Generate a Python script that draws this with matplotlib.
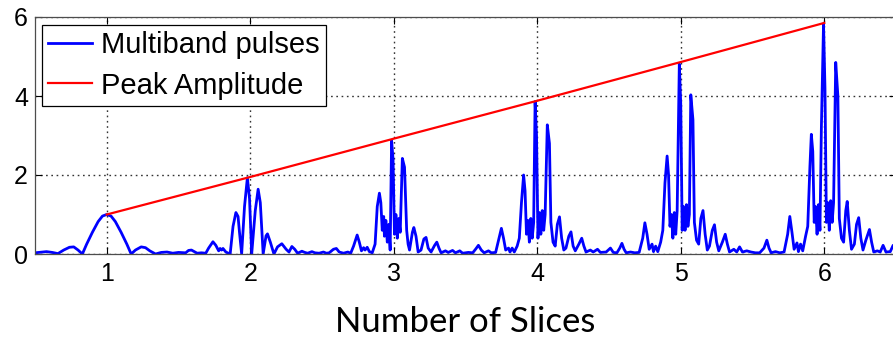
import numpy as np
import matplotlib
matplotlib.use("Agg")
import matplotlib.pyplot as plt

# Multiband pulse envelope, one block per slice group
x_1 = [0.50, 0.55, 0.58, 0.62, 0.66, 0.70, 0.74, 0.77, 0.80, 0.83, 0.86, 0.90, 0.94, 0.97,
       1.00, 1.03, 1.06, 1.10, 1.14, 1.17, 1.20, 1.24, 1.27, 1.30, 1.34, 1.38, 1.42, 1.46,
       1.50]
y_1 = [0.03, 0.05, 0.06, 0.04, 0.01, 0.10, 0.17, 0.18, 0.10, 0.00, 0.25, 0.55, 0.82, 0.96,
       1.00, 0.96, 0.82, 0.55, 0.25, 0.00, 0.10, 0.18, 0.16, 0.08, 0.00, 0.04, 0.05, 0.02,
       0.04]

x_2 = [1.55, 1.57, 1.59, 1.61, 1.63, 1.66, 1.69, 1.71, 1.74, 1.76, 1.78, 1.79, 1.80, 1.81,
       1.83, 1.86, 1.88, 1.90, 1.915, 1.925, 1.94, 1.96, 1.98, 1.995, 2.01, 2.035, 2.055,
       2.07, 2.09, 2.11, 2.12, 2.14, 2.165, 2.19, 2.22, 2.25, 2.27, 2.29, 2.31, 2.33, 2.36,
       2.38, 2.40, 2.43, 2.45, 2.48, 2.51, 2.53]
y_2 = [0.03, 0.09, 0.10, 0.06, 0.02, 0.03, 0.02, 0.15, 0.31, 0.22, 0.08, 0.14, 0.10, 0.14,
       0.05, 0.00, 0.70, 1.05, 0.95, 0.55, 0.00, 1.20, 1.93, 1.40, 0.00, 1.10, 1.64,
       1.30, 0.00, 0.46, 0.51, 0.30, 0.00, 0.18, 0.26, 0.12, 0.05, 0.19, 0.12, 0.02, 0.07,
       0.04, 0.02, 0.06, 0.03, 0.02, 0.05, 0.02]

x_3 = [2.55, 2.58, 2.60, 2.62, 2.65, 2.68, 2.70, 2.72, 2.745, 2.76, 2.775, 2.79, 2.80,
       2.815, 2.83, 2.85, 2.87, 2.885, 2.90, 2.91, 2.92, 2.93, 2.935, 2.945, 2.955, 2.965,
       2.975, 2.985, 2.995, 3.005, 3.015, 3.025, 3.035, 3.045, 3.06, 3.075, 3.09, 3.10,
       3.11, 3.13, 3.14, 3.155, 3.17, 3.19, 3.21, 3.225, 3.24, 3.26, 3.285, 3.30, 3.315,
       3.33, 3.36, 3.38, 3.41, 3.43, 3.46, 3.48, 3.52]
y_3 = [0.03, 0.12, 0.14, 0.05, 0.02, 0.05, 0.02, 0.20, 0.48, 0.30, 0.08, 0.16, 0.10,
       0.17, 0.06, 0.03, 0.25, 1.20, 1.54, 1.30, 0.60, 0.95, 0.45, 0.85, 0.30, 0.75,
       0.10, 2.87, 2.40, 0.50, 1.00, 0.40, 0.90, 0.55, 2.42, 2.20, 0.60, 0.25,
       0.10, 0.55, 0.67, 0.45, 0.05, 0.10, 0.38, 0.42, 0.15, 0.05, 0.22, 0.30, 0.15,
       0.03, 0.08, 0.04, 0.09, 0.03, 0.08, 0.02, 0.04]

x_4 = [3.55, 3.57, 3.59, 3.61, 3.63, 3.66, 3.68, 3.71, 3.73, 3.75, 3.765, 3.78, 3.80,
       3.81, 3.825, 3.84, 3.86, 3.875, 3.89, 3.905, 3.915, 3.925, 3.935, 3.945, 3.955,
       3.965, 3.975, 3.985, 3.995, 4.005, 4.015, 4.025, 4.035, 4.045, 4.055, 4.07, 4.085,
       4.095, 4.11, 4.125, 4.14, 4.155, 4.17, 4.185, 4.20, 4.22, 4.235, 4.25, 4.265, 4.29,
       4.31, 4.325, 4.34, 4.37, 4.39, 4.42, 4.44, 4.48, 4.51, 4.53]
y_4 = [0.03, 0.12, 0.22, 0.10, 0.03, 0.08, 0.03, 0.04, 0.35, 0.65, 0.40, 0.10, 0.15,
       0.05, 0.15, 0.05, 0.20, 0.40, 1.30, 2.00, 1.60, 0.50, 0.85, 0.30, 0.90,
       0.40, 0.80, 3.86, 3.00, 0.40, 1.05, 0.50, 1.10, 0.60, 1.00, 3.27, 2.80,
       0.80, 0.30, 0.20, 0.75, 0.94, 0.40, 0.10, 0.15, 0.45, 0.56, 0.20, 0.08, 0.25,
       0.40, 0.20, 0.05, 0.10, 0.05, 0.12, 0.04, 0.05, 0.15, 0.04]

x_5 = [4.555, 4.575, 4.59, 4.605, 4.62, 4.65, 4.68, 4.71, 4.735, 4.75, 4.765, 4.78, 4.80,
       4.81, 4.825, 4.84, 4.86, 4.875, 4.89, 4.905, 4.915, 4.925, 4.935, 4.945, 4.955,
       4.965, 4.975, 4.99, 5.00, 5.01, 5.02, 5.03, 5.04, 5.05, 5.06, 5.07, 5.085, 5.095,
       5.11, 5.125, 5.14, 5.155, 5.17, 5.185, 5.20, 5.22, 5.235, 5.25, 5.265, 5.29, 5.31,
       5.325, 5.34, 5.37, 5.39, 5.41, 5.43, 5.46, 5.49, 5.52]
y_5 = [0.03, 0.15, 0.27, 0.12, 0.03, 0.05, 0.03, 0.04, 0.40, 0.79, 0.50, 0.12, 0.25,
       0.06, 0.20, 0.06, 0.30, 0.60, 1.80, 2.48, 2.00, 0.70, 1.00, 0.40, 1.05,
       0.50, 1.10, 4.81, 3.80, 0.60, 1.20, 0.60, 1.25, 0.70, 1.00, 4.03, 3.40, 0.80,
       0.35, 0.25, 0.90, 1.10, 0.50, 0.10, 0.20, 0.60, 0.74, 0.30, 0.08, 0.30, 0.50,
       0.25, 0.05, 0.12, 0.05, 0.18, 0.05, 0.08, 0.05, 0.03]

x_6 = [5.55, 5.58, 5.60, 5.615, 5.63, 5.66, 5.69, 5.72, 5.745, 5.76, 5.775, 5.79, 5.81,
       5.82, 5.835, 5.85, 5.87, 5.885, 5.90, 5.91, 5.92, 5.93, 5.94, 5.95, 5.96, 5.97,
       5.98, 5.995, 6.005, 6.015, 6.025, 6.035, 6.045, 6.055, 6.065, 6.08, 6.095, 6.105,
       6.12, 6.135, 6.15, 6.16, 6.175, 6.19, 6.21, 6.225, 6.24, 6.255, 6.27, 6.29, 6.315,
       6.33, 6.345, 6.37, 6.39, 6.41, 6.43, 6.46, 6.48, 6.50]
y_6 = [0.03, 0.15, 0.35, 0.15, 0.03, 0.06, 0.03, 0.05, 0.50, 0.95, 0.55, 0.12, 0.28,
       0.06, 0.25, 0.08, 0.45, 0.70, 2.20, 3.03, 2.60, 0.80, 1.20, 0.50, 1.25, 0.60,
       3.20, 5.83, 4.20, 0.80, 1.30, 0.60, 1.35, 0.80, 1.30, 4.85, 4.00, 0.90,
       0.40, 0.30, 1.10, 1.33, 0.60, 0.12, 0.25, 0.75, 0.92, 0.40, 0.10, 0.35, 0.62,
       0.30, 0.05, 0.08, 0.05, 0.22, 0.05, 0.06, 0.22, 0.10]

# peak amplitude per number of slices
n_slices = [1, 2, 3, 4, 5, 6]
peak_amp = [1.0, 1.95, 2.92, 3.88, 4.86, 5.85]

x_pulse = np.concatenate([x_1, x_2, x_3, x_4, x_5, x_6])
y_pulse = np.concatenate([y_1, y_2, y_3, y_4, y_5, y_6])

fig = plt.figure(figsize=(8.93, 3.38), dpi=100)
ax = fig.add_axes([35 / 893, 84 / 338, 861 / 893, 237 / 338])

ax.plot(x_pulse, y_pulse, color='#0000ff', lw=2.0, label='Multiband pulses')
ax.plot(n_slices, peak_amp, color='#ff0000', lw=1.6, label='Peak Amplitude')

ax.set_xlim(0.5, 6.5)
ax.set_ylim(0, 6)
ax.set_xticks(n_slices)
ax.set_yticks([0, 2, 4, 6])
ax.grid(True, color='0.2', linestyle=(0, (1.2, 2.6)), linewidth=1.0)
ax.tick_params(direction='in', length=5, top=True, right=True, labelsize=18,
               pad=6, width=0.8)
ax.tick_params(axis='y', pad=5)
for lab in ax.get_xticklabels() + ax.get_yticklabels():
    lab.set_family('Liberation Sans')
for sp in ax.spines.values():
    sp.set_linewidth(0.9)
    sp.set_color('0.3')

ax.set_xlabel('Number of Slices', fontsize=25, family='Lato', labelpad=14)

leg = ax.legend(loc='upper left', bbox_to_anchor=(7 / 861, 1 - 8 / 237),
                borderaxespad=0, fancybox=False, framealpha=1,
                prop={'family': 'Liberation Sans', 'size': 21},
                handlelength=1.5, handletextpad=0.3, labelspacing=0.42,
                borderpad=0.22)
leg.get_frame().set_edgecolor('black')
leg.get_frame().set_linewidth(0.9)

fig.savefig('out.png', dpi=100)
